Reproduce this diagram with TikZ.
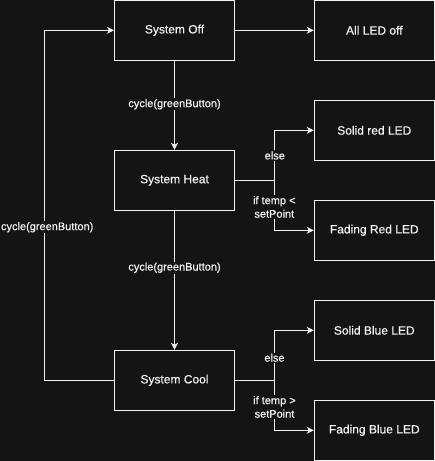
\documentclass[tikz,border=0pt]{standalone}
\usepackage{fontspec}
\setmainfont{Liberation Sans}
\newfontfamily\dfont[FakeBold=0.6]{Liberation Sans}
\usetikzlibrary{arrows.meta}
\definecolor{bg}{HTML}{141414}
\definecolor{fg}{HTML}{F2F2F2}
\tikzset{
  box/.style={draw=fg, fill=bg, line width=1pt, minimum width=120pt, minimum height=60pt, inner sep=0pt, text=fg, font=\dfont\fontsize{12}{14}\selectfont},
  conn/.style={draw=fg, line width=1pt},
  arr/.style={conn, -{Stealth[length=7pt,width=7pt,inset=2pt]}},
  lbl/.style={fill=bg, text=fg, inner sep=1pt, align=center, font=\dfont\fontsize{11}{13.5}\selectfont}
}
\begin{document}
\begin{tikzpicture}[x=1pt,y=1pt]
\fill[bg] (0,0) rectangle (435,-461);
\useasboundingbox (0,0) rectangle (435,-461);
% nodes
\node[box] (off) at (174.5,-30.3) {System Off};
\node[box] (heat) at (174.5,-180.3) {System Heat};
\node[box] (cool) at (174.5,-380.3) {System Cool};
\node[box] (alloff) at (374.3,-30.3) {All LED off};
\node[box] (solidred) at (374.3,-130.3) {Solid red LED};
\node[box] (fadered) at (374.3,-230.3) {Fading Red LED};
\node[box] (solidblue) at (374.3,-330.3) {Solid Blue LED};
\node[box] (fadeblue) at (374.3,-430.3) {Fading Blue LED};
% main chain
\draw[arr] (off) -- (heat);
\node[lbl] (l1) at (174.5,-104.3) {cycle(greenButton)};
\draw[arr] (heat) -- (cool);
\node[lbl] (l2) at (174.5,-267.7) {cycle(greenButton)};
\draw[arr] (off) -- (alloff);
% heat branches
\coordinate (hb) at (274.5,-180.3);
\draw[conn] (heat.east) -- (hb);
\draw[arr] (hb) |- (solidred.west);
\draw[arr] (hb) |- (fadered.west);
\node[lbl] (l3) at (274.8,-155.5) {else};
\node[lbl] (l4) at (274.3,-207) {if temp <\\setPoint};
% cool branches
\coordinate (cb) at (274.5,-380.3);
\draw[conn] (cool.east) -- (cb);
\draw[arr] (cb) |- (solidblue.west);
\draw[arr] (cb) |- (fadeblue.west);
\node[lbl] (l5) at (274.5,-357.7) {else};
\node[lbl] (l6) at (274.5,-407) {if temp >\\setPoint};
% loop back
\coordinate (lb) at (44.5,-380.3);
\coordinate (lt) at (44.5,-30.3);
\draw[arr] (cool.west) -- (lb) -- (lt) -- (off.west);
\node[lbl] (l7) at (47.2,-227.3) {cycle(greenButton)};
\end{tikzpicture}
\end{document}
